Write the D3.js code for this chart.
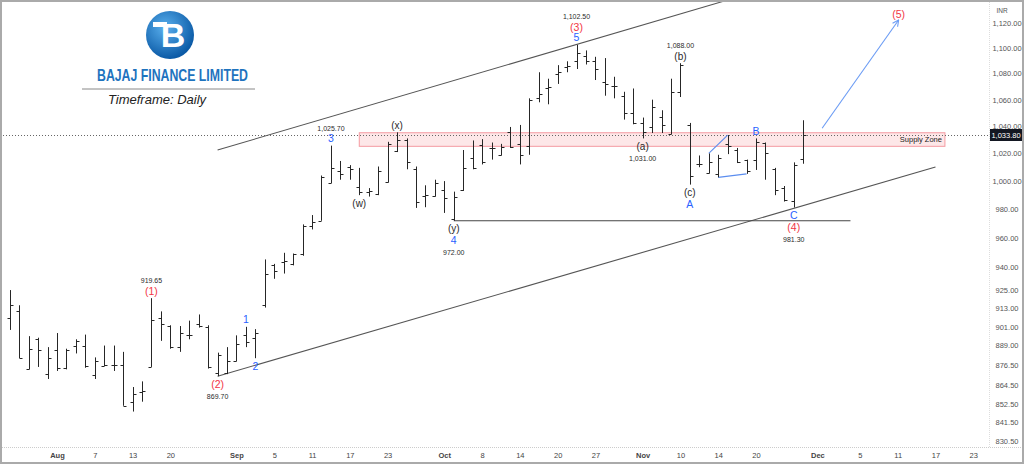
<!DOCTYPE html>
<html>
<head>
<meta charset="utf-8">
<script src="https://cdn.jsdelivr.net/npm/d3@7"></script>
<style>
  body { margin: 0; background: #fff; }
  svg { display: block; }
  text { font-family: "Liberation Sans", Arial, sans-serif; }
</style>
</head>
<body>
<svg id="chart" width="1024" height="464"></svg>
<script>
// daily OHLC, one entry per trading day (bar index 0..84)
const opens  = [907,911.5,874,893,871,886,875,889,889,870.5,876,877,877,854,860,875.5,907,901.5,888,895.5,903,901,872,872,879,896,894,
  915.5,942,944,942.5,949.5,968.5,972,999,1007.5,1010.5,996,992,990.5,999.5,1021.5,1030,1008.5,989.5,989.5,993.5,973,993.5,1017,1026.5,
  1024,1018.5,1036,1027,1025.5,1061,1068.5,1080,1085,1090,1094,1090,1073.5,1070.5,1062.5,1050,1042.5,1039.5,1047,1034.5,1066,1041,
  1012.5,1006,1005,1027,1022.5,1015.5,1015,1027.5,1008.5,995,986,1016];
const highs  = [925,915,895,894,888,897,887,893,896,881.5,889,889,885,863,866.5,919.65,911,902,901.5,905,909,902,884.5,888,895.5,901,899.5,
  945.5,942.5,950,949.5,969.5,976,1004,1025.7,1014.5,1011.5,1009.5,995,1010.5,1028.5,1035.5,1031,1010.5,997,1001,1000,992.5,1022.5,1029.5,1030.5,
  1028,1027,1039.5,1041,1061,1081,1076,1086.5,1089.5,1102.5,1098,1093,1092,1077.5,1066,1068.5,1046.5,1060,1052,1076,1088,1042.5,
  1018.5,1020,1019,1033.5,1024,1015.5,1031,1028,1009.5,996.5,1013.5,1044.5];
const lows   = [899,881,874,875.5,868,873,874,884,875,868,876,873,851.5,848,854,875.5,892,887,885,893,900.5,874.5,869.7,871,879,888,881,
  913.5,932.5,936,941.5,948,966,972,998.5,1001,1001,990,989,990,999,1021,1008.5,981,981.5,989,977.5,972,993,1008.5,1012,
  1015.5,1018.5,1024,1012,1019,1058,1056.5,1072,1081,1083.5,1087,1075,1063,1061,1045,1041.5,1031,1035,1035,1034,1062,997.5,
  1010,1005.5,1002.7,1019.5,1013,1005.2,1008,1001,990,985.5,981.3,1012.5];
const closes = [915,881,887,886,881,875,886,892,876,879,876.5,877,851.5,859,860.5,905.5,903,888,897,895.5,901.5,875.5,883,879,890,891,897,
  935.5,938,944.5,949,968.5,971,1003,1009.5,1005,1008.5,992,993,1007,1027,1030,1013.5,985,990,998.5,988,989,1009.5,1009.5,1013.5,
  1024,1024.5,1025,1019,1060,1064.5,1069.5,1081,1086,1096,1090,1083.5,1072,1070.5,1050,1042.5,1036,1054.5,1041,1066,1087,1004,
  1012.5,1013.5,1016.5,1025.5,1014,1007.5,1028.5,1020.5,993.5,986.5,1011.5,1033.8];

const lastPrice = 1033.8;

// axis ticks
const yTicks = [1120,1100,1080,1060,1040,1020,1000,980,960,940,925,913,901,889,876.5,864.5,852.5,841.5,830.5];
const xTickIdx    = [5,9,13,17,24,28,32,36,40,46,50,54,58,62,67,71,75,79,85.5,90,94,98,102];
const xTickLabels = ["Aug","7","13","20","Sep","5","11","17","23","Oct","8","14","20","27","Nov","10","14","20","Dec","5","11","17","23"];
const monthNames = ["Aug","Sep","Oct","Nov","Dec"];

// drawings: [barIndex, price] pairs
const upperChannel = [[22, 1022.5], [76, 1138.3]];
const lowerChannel = [[22, 869.7], [98, 1010.1]];
const wave4Level   = [[47, 972], [89, 972]];
const subWaveTop   = [[74, 1020], [76, 1033.5]];
const subWaveBot   = [[75, 1002.7], [78, 1005.2]];
const targetArrow  = [[86, 1038.5], [94.1, 1122.2]];
const supplyZone   = {from: 37, to: 99, low: 1025.2, high: 1035.2};

// wave labels: bar, side of bar, texts from the bar outwards
const pivotBars  = [15, 25, 26, 22, 34, 37, 41, 47, 60, 71, 67, 72, 79, 83];
const pivotSides = ["high","high","low","low","high","low","high","low","high","high","low","low","high","low"];
const pivotTexts = [
  [["(1)","r"],["919.65","p"]],
  [["1","b"]],
  [["2","b"]],
  [["(2)","r"],["869.70","p"]],
  [["3","b"],["1,025.70","p"]],
  [["(w)","k"]],
  [["(x)","k"]],
  [["(y)","k"],["4","b"],["972.00","p"]],
  [["5","b"],["(3)","r"],["1,102.50","p"]],
  [["(b)","k"],["1,088.00","p"]],
  [["(a)","k"],["1,031.00","p"]],
  [["(c)","k"],["A","b"]],
  [["B","b"]],
  [["C","b"],["(4)","r"],["981.30","p"]]
];
const endLabel = [94.1, 1122.2, "(5)"];

const W = 1024, H = 464;
const plotRight = 989, plotBottom = 447;

const svg = d3.select("#chart");

const x = d3.scaleLinear().domain([0, 100]).range([9.77, 954.37]);
const y = d3.scaleLog().domain([830.5, 1120]).range([440.7, 22.7]);

const RED = "#f23645", BLUE = "#2962ff", DARK = "#2a2a2a";

svg.append("defs").append("clipPath").attr("id", "plot")
  .append("rect").attr("x", 0).attr("y", 0).attr("width", plotRight).attr("height", plotBottom);

svg.append("rect").attr("width", W).attr("height", H).attr("fill", "#fff");

const plot = svg.append("g").attr("clip-path", "url(#plot)");
const line = d3.line().x(d => x(d[0])).y(d => y(d[1]));

// supply zone
plot.append("rect")
  .attr("x", x(supplyZone.from)).attr("width", x(supplyZone.to) - x(supplyZone.from))
  .attr("y", y(supplyZone.high)).attr("height", y(supplyZone.low) - y(supplyZone.high))
  .attr("fill", "rgba(242,54,69,0.12)").attr("stroke", "#f59aa1").attr("stroke-width", 1);
plot.append("text")
  .attr("x", x(supplyZone.to) - 3).attr("y", (y(supplyZone.high) + y(supplyZone.low)) / 2)
  .attr("dy", "0.35em").attr("text-anchor", "end")
  .attr("font-size", 7.5).attr("fill", "#222").text("Supply Zone");

// last price dotted line
plot.append("line")
  .attr("x1", 0).attr("x2", plotRight).attr("y1", Math.round(y(lastPrice)) + 0.5).attr("y2", Math.round(y(lastPrice)) + 0.5)
  .attr("stroke", "#666").attr("stroke-width", 1).attr("stroke-dasharray", "1,2");

// channel and levels
[upperChannel, lowerChannel].forEach(pts => {
  plot.append("path").attr("d", line(pts)).attr("fill", "none").attr("stroke", "#555").attr("stroke-width", 1.1);
});
plot.append("path").attr("d", line(wave4Level)).attr("fill", "none").attr("stroke", "#444").attr("stroke-width", 1.1);
[subWaveTop, subWaveBot].forEach(pts => {
  plot.append("path").attr("d", line(pts)).attr("fill", "none").attr("stroke", "#5b8def").attr("stroke-width", 1.1);
});

// arrow
svg.select("defs").append("marker").attr("id", "arr")
  .attr("viewBox", "0 0 10 10").attr("refX", 9).attr("refY", 5)
  .attr("markerWidth", 7).attr("markerHeight", 7).attr("orient", "auto")
  .append("path").attr("d", "M1,1 L9,5 L1,9").attr("fill", "none").attr("stroke", "#6a9bf4").attr("stroke-width", 1.4);
plot.append("path").attr("d", line(targetArrow)).attr("fill", "none")
  .attr("stroke", "#6a9bf4").attr("stroke-width", 1.1).attr("marker-end", "url(#arr)");

// OHLC bars
const bars = plot.append("g").attr("stroke", "#262626").attr("stroke-width", 1);
opens.forEach((o, i) => {
  const cx = Math.round(x(i)) + 0.5;
  const g = bars.append("g");
  g.append("line").attr("x1", cx).attr("x2", cx).attr("y1", y(highs[i])).attr("y2", y(lows[i]));
  g.append("line").attr("x1", cx - 3).attr("x2", cx).attr("y1", Math.round(y(o)) + 0.5).attr("y2", Math.round(y(o)) + 0.5);
  g.append("line").attr("x1", cx).attr("x2", cx + 3).attr("y1", Math.round(y(closes[i])) + 0.5).attr("y2", Math.round(y(closes[i])) + 0.5);
});

// wave labels
const styleOf = {
  r: {fill: RED, size: 10.5},
  b: {fill: BLUE, size: 10.5},
  k: {fill: DARK, size: 10},
  p: {fill: DARK, size: 7}
};
pivotBars.forEach((b, k) => {
  const isHigh = pivotSides[k] === "high";
  const base = isHigh ? y(highs[b]) : y(lows[b]);
  pivotTexts[k].forEach((t, j) => {
    const st = styleOf[t[1]];
    const cy = isHigh ? base - 7 - j * 10.5 : base + 8 + j * 12;
    plot.append("text")
      .attr("x", x(b)).attr("y", cy).attr("dy", "0.35em")
      .attr("text-anchor", "middle").attr("font-size", st.size).attr("fill", st.fill)
      .text(t[0]);
  });
});
plot.append("text")
  .attr("x", x(endLabel[0])).attr("y", y(endLabel[1]) - 6).attr("dy", "0.35em")
  .attr("text-anchor", "middle").attr("font-size", 10.5).attr("fill", RED).text(endLabel[2]);

// right price axis
svg.append("line").attr("x1", plotRight + 0.5).attr("x2", plotRight + 0.5).attr("y1", 0).attr("y2", plotBottom)
  .attr("stroke", "#ddd").attr("stroke-dasharray", "1,1");
const yAxis = svg.append("g").attr("transform", "translate(1007,0)")
  .call(d3.axisRight(y).tickValues(yTicks).tickSize(0).tickPadding(0).tickFormat(d3.format(",.2f")));
yAxis.select(".domain").remove();
yAxis.selectAll("text").attr("text-anchor", "middle").attr("font-size", 7.5).attr("fill", "#555")
  .attr("font-family", '"Liberation Sans", Arial, sans-serif');

svg.append("text").attr("x", 1002).attr("y", 13).attr("text-anchor", "middle")
  .attr("font-size", 6.5).attr("fill", "#555").text("INR");

// last price tag
const tagY = Math.round(y(lastPrice));
svg.append("rect").attr("x", plotRight + 1).attr("y", tagY - 6).attr("width", 32).attr("height", 12).attr("fill", "#131722");
svg.append("text").attr("x", 1006).attr("y", tagY).attr("dy", "0.35em").attr("text-anchor", "middle")
  .attr("font-size", 7.5).attr("fill", "#fff").text(d3.format(",.2f")(lastPrice));

// time axis
svg.append("line").attr("x1", 0).attr("x2", W).attr("y1", plotBottom + 0.5).attr("y2", plotBottom + 0.5)
  .attr("stroke", "#ccc").attr("stroke-dasharray", "1,1");
const xAxis = svg.append("g").attr("transform", `translate(0,${plotBottom})`)
  .call(d3.axisBottom(x).tickValues(xTickIdx).tickSize(0).tickPadding(6).tickFormat((d, i) => xTickLabels[i]));
xAxis.select(".domain").remove();
xAxis.selectAll("text").attr("font-size", 7.5).attr("fill", "#444")
  .attr("font-family", '"Liberation Sans", Arial, sans-serif')
  .attr("font-weight", d => monthNames.includes(xTickLabels[xTickIdx.indexOf(d)]) ? "bold" : "normal");

// logo block
const grad = svg.select("defs").append("radialGradient").attr("id", "logoGrad").attr("cx", "40%").attr("cy", "35%").attr("r", "65%");
grad.append("stop").attr("offset", "0%").attr("stop-color", "#5ab0ee");
grad.append("stop").attr("offset", "100%").attr("stop-color", "#0b5aa6");
const logo = svg.append("g").attr("transform", "translate(170,35)");
logo.append("circle").attr("r", 24).attr("fill", "url(#logoGrad)");
logo.append("rect").attr("x", -17).attr("y", -13).attr("width", 14).attr("height", 5).attr("fill", "#fff");
logo.append("text").attr("x", 3).attr("y", 12).attr("text-anchor", "middle")
  .attr("font-family", '"DejaVu Sans", sans-serif').attr("font-weight", "bold").attr("font-size", 34)
  .attr("fill", "#fff").text("B");

svg.append("text").attr("x", 97).attr("y", 81)
  .attr("font-family", '"Liberation Sans Narrow", "DejaVu Sans Condensed", Arial, sans-serif')
  .attr("font-weight", "bold").attr("font-size", 17).attr("fill", "#1e73be")
  .attr("textLength", 151).attr("lengthAdjust", "spacingAndGlyphs")
  .text("BAJAJ FINANCE LIMITED");
svg.append("line").attr("x1", 82).attr("x2", 255).attr("y1", 89).attr("y2", 89).attr("stroke", "#888").attr("stroke-width", 1);
svg.append("text").attr("x", 157).attr("y", 104).attr("text-anchor", "middle")
  .attr("font-style", "italic").attr("font-size", 13).attr("fill", "#222").text("Timeframe: Daily");

// frame
svg.append("rect").attr("x", 1).attr("y", 1).attr("width", W - 2).attr("height", H - 2)
  .attr("fill", "none").attr("stroke", "#aaa").attr("stroke-width", 2);
</script>
</body>
</html>
